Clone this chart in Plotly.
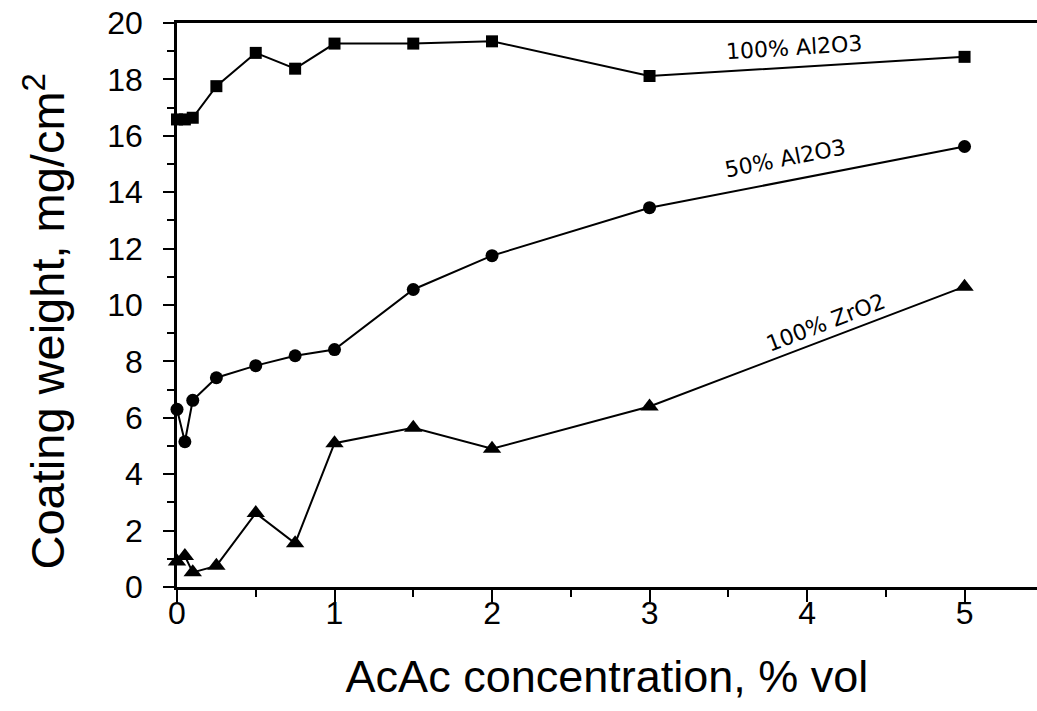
import plotly.graph_objects as go

acac = [0, 0.05, 0.1, 0.25, 0.5, 0.75, 1, 1.5, 2, 3, 5]
al2o3_100 = [16.58, 16.58, 16.64, 17.76, 18.94, 18.38, 19.27, 19.27, 19.35, 18.12, 18.8]
al2o3_50 = [6.3, 5.15, 6.62, 7.42, 7.85, 8.2, 8.42, 10.55, 11.75, 13.45, 15.62]
zro2_100 = [0.9, 1.1, 0.52, 0.75, 2.62, 1.55, 5.1, 5.65, 4.9, 6.4, 10.65]

x_ticks = [0, 1, 2, 3, 4, 5]
y_ticks = [0, 2, 4, 6, 8, 10, 12, 14, 16, 18, 20]

fig = go.Figure()
line = dict(color="black", width=2)
fig.add_trace(go.Scatter(x=acac, y=al2o3_100, mode="lines+markers", name="100% Al2O3",
                         line=line, marker=dict(symbol="square", size=12, color="black"),
                         cliponaxis=False))
fig.add_trace(go.Scatter(x=acac, y=al2o3_50, mode="lines+markers", name="50% Al2O3",
                         line=line, marker=dict(symbol="circle", size=13, color="black"),
                         cliponaxis=False))
fig.add_trace(go.Scatter(x=acac, y=zro2_100, mode="lines+markers", name="100% ZrO2",
                         line=line, marker=dict(symbol="triangle-up", size=16, color="black"),
                         cliponaxis=False, xaxis="x2"))

tickfont = dict(family="Liberation Sans, Arial, sans-serif", size=32, color="black")
titlefont = dict(family="Liberation Sans, Arial, sans-serif", size=45, color="black")
labfont = dict(family="DejaVu Sans, sans-serif", size=22, color="black")
x_range = [0, 5.46]

fig.update_layout(
    width=1037, height=711,
    margin=dict(l=177, r=0, t=23, b=124),
    paper_bgcolor="white", plot_bgcolor="white",
    showlegend=False,
    xaxis=dict(
        range=x_range, tickmode="array", tickvals=x_ticks,
        showline=True, linecolor="black", linewidth=2.5, mirror=True,
        ticks="outside", ticklen=12, tickwidth=2, tickcolor="black",
        minor=dict(ticks="outside", ticklen=7, tickwidth=2, tickcolor="black", dtick=0.5, tick0=0),
        showgrid=False, zeroline=False, showticklabels=False,
    ),
    xaxis2=dict(
        range=x_range, overlaying="x", anchor="y", side="bottom", matches="x",
        tickmode="array", tickvals=x_ticks, ticktext=[str(v) for v in x_ticks],
        ticks="", showline=False, showgrid=False, zeroline=False,
        tickfont=tickfont, ticklabelstandoff=4,
        title=dict(text="AcAc concentration, % vol", font=titlefont, standoff=30),
    ),
    yaxis=dict(
        range=[0, 20], tickmode="array", tickvals=y_ticks, ticktext=[str(v) for v in y_ticks],
        showline=True, linecolor="black", linewidth=2.5, mirror=False,
        ticks="outside", ticklen=11, tickwidth=2, tickcolor="black",
        minor=dict(ticks="outside", ticklen=7, tickwidth=2, tickcolor="black", dtick=1, tick0=0),
        showgrid=False, zeroline=False, tickfont=tickfont, ticklabelstandoff=14,
    ),
    annotations=[
        dict(text="Coating weight, mg/cm<sup>2</sup>", xref="paper", yref="paper",
             x=-0.154, y=0.47, textangle=-90, showarrow=False,
             font=dict(family="Liberation Sans, Arial, sans-serif", size=47, color="black"),
             xanchor="center", yanchor="middle"),
        dict(text="100% Al2O3", x=3.92, y=19.14, xref="x", yref="y", showarrow=False,
             textangle=-3.6, font=labfont),
        dict(text="50% Al2O3", x=3.86, y=15.2, xref="x", yref="y", showarrow=False,
             textangle=-11, font=labfont),
        dict(text="100% ZrO2", x=4.12, y=9.38, xref="x", yref="y", showarrow=False,
             textangle=-21, font=labfont),
    ],
)

fig.write_html("out.html")
